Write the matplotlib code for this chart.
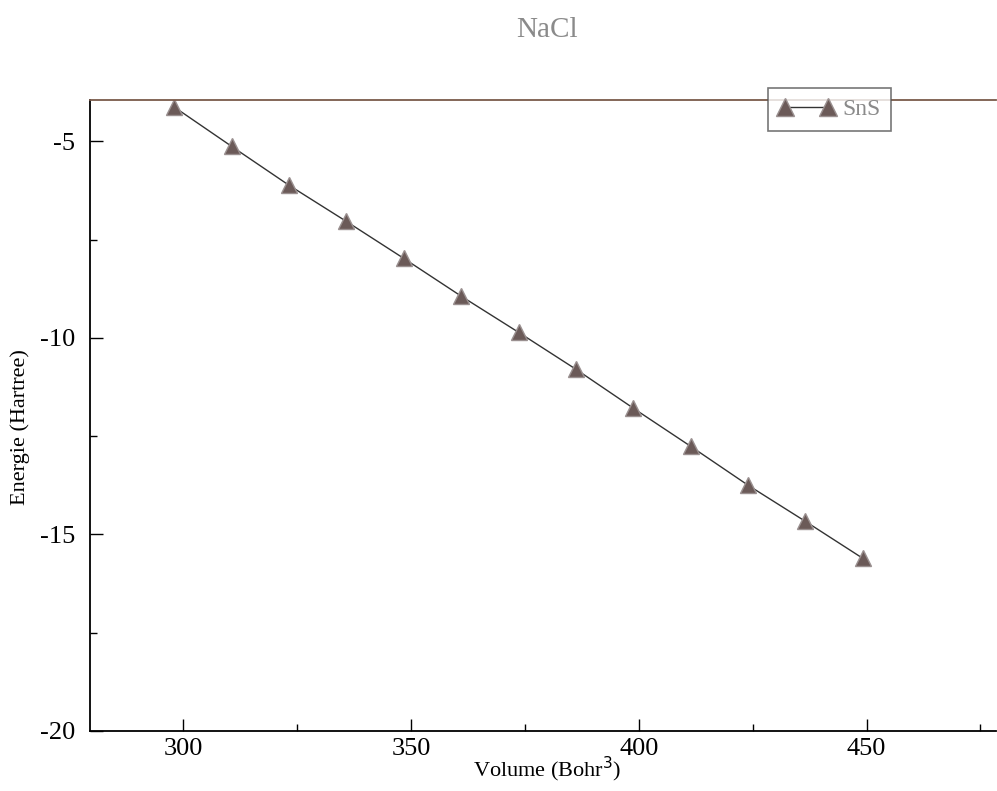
import matplotlib.pyplot as plt
from matplotlib.ticker import MultipleLocator

# valores
volume = [298, 310.6, 323.2, 335.8, 348.4, 361.0, 373.6, 386.2, 398.8, 411.4, 424.0, 436.6, 449.2]
energie = [-4.13, -5.13, -6.12, -7.04, -7.98, -8.94, -9.86, -10.80, -11.79, -12.76, -13.75, -14.67, -15.61]

xticks = [300, 350, 400, 450]
yticks = [-5, -10, -15, -20]

plt.rcParams['font.family'] = ['Liberation Serif', 'DejaVu Serif']
plt.rcParams['axes.unicode_minus'] = False

fig = plt.figure(figsize=(9.97, 7.91), dpi=100)
ax = fig.add_axes([0.0903, 0.0759, 0.909, 0.7977])

ax.plot(volume, energie, color='#333333', lw=1.0, marker='^', markersize=12,
        markerfacecolor='#6b5a58', markeredgecolor='#9a9090', markeredgewidth=1.0,
        label='SnS')

ax.set_xlim(279.5, 478.5)
ax.set_ylim(-20, -3.95)
ax.set_xticks(xticks)
ax.set_yticks(yticks)
ax.xaxis.set_minor_locator(MultipleLocator(25))
ax.yaxis.set_minor_locator(MultipleLocator(2.5))
ax.tick_params(which='major', direction='in', length=9, width=1, labelsize=19)
ax.tick_params(axis='x', pad=5)
ax.tick_params(axis='y', pad=11)
ax.tick_params(which='minor', direction='in', length=5, width=1)
ax.tick_params(axis='x', top=False)
ax.tick_params(axis='y', right=False)
ax.tick_params(which='minor', top=False, right=False)
ax.spines['right'].set_visible(False)
for s in ['left', 'bottom', 'top']:
    ax.spines[s].set_linewidth(1.3)
ax.spines['top'].set_color('#7a5a4a')

ax.set_xlabel('Volume (Bohr$^3$)', fontsize=16)
ax.xaxis.set_label_coords(0.504, -0.038)
ax.set_ylabel('Energie (Hartree)', fontsize=16)
ax.yaxis.set_label_coords(-0.066, 0.482)

fig.text(0.549, 0.962, 'NaCl', ha='center', va='center', fontsize=21, color='#8a8a8a')

leg = ax.legend(loc='upper left', bbox_to_anchor=(0.770, 0.889), bbox_transform=fig.transFigure,
                borderaxespad=0, fontsize=17, frameon=True, fancybox=False, markerscale=1.05,
                handlelength=2.4, numpoints=2, borderpad=0.45, handletextpad=0.3)
leg.get_frame().set_edgecolor('#555555')
leg.get_frame().set_linewidth(1.2)
for t in leg.get_texts():
    t.set_color('#8a8a8a')

fig.savefig('out.png', dpi=100)
